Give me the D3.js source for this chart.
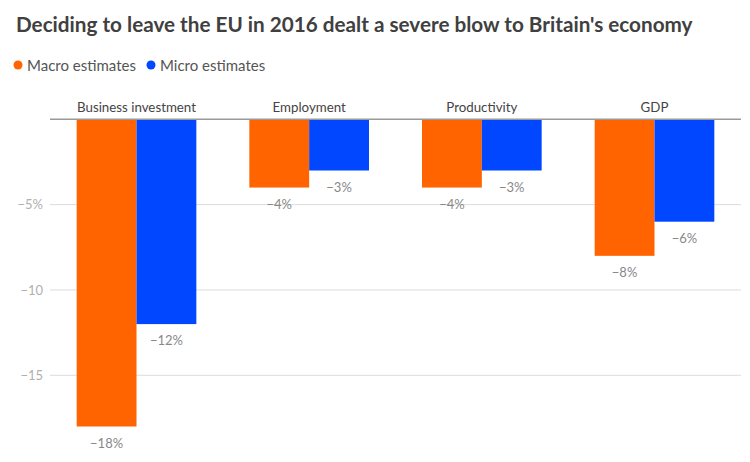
<!DOCTYPE html>
<html>
<head>
<meta charset="utf-8">
<script src="https://cdn.jsdelivr.net/npm/d3@7/dist/d3.min.js"></script>
<style>
  html, body { margin: 0; padding: 0; background: #fff; }
  svg { display: block; font-family: Lato, "Noto Sans", sans-serif; }
</style>
</head>
<body>
<svg id="chart" width="750" height="462"></svg>
<script>
const categories = ["Business investment", "Employment", "Productivity", "GDP"];
const seriesNames = ["Macro estimates", "Micro estimates"];
const macroValues = [-18, -4, -4, -8];
const microValues = [-12, -3, -3, -6];
const yTicks = [-5, -10, -15];
const yTickLabels = ["\u22125%", "\u221210", "\u221215"];
const colors = ["#ff6400", "#0047ff"];

const svg = d3.select("#chart");

// Title
svg.append("text")
  .attr("x", 16).attr("y", 32)
  .attr("font-size", 20.7).attr("font-weight", 700)
  .attr("fill", "#404040")
  .text("Deciding to leave the EU in 2016 dealt a severe blow to Britain's economy");

// Legend
const legend = svg.append("g");
let lx = 18;
seriesNames.forEach((name, i) => {
  legend.append("circle").attr("cx", lx).attr("cy", 65).attr("r", 4.5).attr("fill", colors[i]);
  legend.append("text").attr("x", lx + 9).attr("y", 71)
    .attr("font-size", 15).attr("fill", "#555").text(name);
  lx += 133;
});

const y = d3.scaleLinear().domain([0, -18]).range([119.3, 426.5]);
const x0 = d3.scaleBand().domain(categories).range([50, 741]).paddingInner(0.307).paddingOuter(0.1545);
const x1 = d3.scaleBand().domain(seriesNames).range([0, x0.bandwidth()]);

// Gridlines
const grid = svg.append("g");
grid.selectAll("line").data(yTicks).join("line")
  .attr("x1", 50).attr("x2", 741)
  .attr("y1", d => y(d)).attr("y2", d => y(d))
  .attr("stroke", "#dcdcdc").attr("stroke-width", 1);
grid.selectAll("text").data(yTicks).join("text")
  .attr("x", 43).attr("y", d => y(d)).attr("dy", "0.35em")
  .attr("text-anchor", "end").attr("font-size", 13).attr("fill", "#b0b0b0")
  .text((d, i) => yTickLabels[i]);

// Bars
const data = categories.map((c, i) => ({ cat: c, vals: [macroValues[i], microValues[i]] }));
const groups = svg.append("g").selectAll("g").data(data).join("g")
  .attr("transform", d => `translate(${x0(d.cat)},0)`);
groups.selectAll("rect").data(d => d.vals.map((v, i) => ({ v, s: seriesNames[i], i }))).join("rect")
  .attr("x", d => x1(d.s)).attr("width", x1.bandwidth())
  .attr("y", y(0)).attr("height", d => y(d.v) - y(0))
  .attr("fill", d => colors[d.i]);
groups.selectAll("text.val").data(d => d.vals.map((v, i) => ({ v, s: seriesNames[i], i }))).join("text")
  .attr("class", "val")
  .attr("x", d => x1(d.s) + x1.bandwidth() / 2)
  .attr("y", d => y(d.v) + 21)
  .attr("text-anchor", "middle").attr("font-size", 13).attr("fill", "#888")
  .text(d => "\u2212" + Math.abs(d.v) + "%");

// Category labels
svg.append("g").selectAll("text").data(categories).join("text")
  .attr("x", d => x0(d) + x0.bandwidth() / 2).attr("y", 112)
  .attr("text-anchor", "middle").attr("font-size", 13.3).attr("fill", "#444")
  .text(d => d);

// Zero line
svg.append("line").attr("x1", 50).attr("x2", 741).attr("y1", y(0)).attr("y2", y(0))
  .attr("stroke", "#999").attr("stroke-width", 1.5);
</script>
</body>
</html>
